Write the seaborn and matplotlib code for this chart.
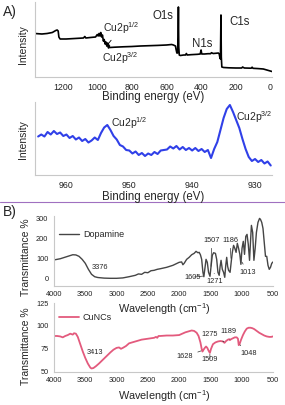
import matplotlib
matplotlib.use("Agg")
import matplotlib.pyplot as plt
import seaborn as sns

# XPS survey (binding energy in eV, intensity in arbitrary units)
survey_ev = [1360, 1320, 1290, 1260, 1240, 1232, 1226, 1222, 1215, 1180, 1130, 1080, 1072, 1066,
             1040, 1010, 1000, 995, 990, 985, 980, 975, 970, 965, 960, 955, 950, 945, 940, 935,
             932, 928, 900, 850, 800, 750, 700, 650, 600, 570, 560, 548, 545, 540, 536, 533, 531,
             529, 526, 520, 500, 490, 485, 480, 460, 440, 420, 405, 400, 396, 380, 360, 345, 340,
             330, 310, 300, 295, 292, 288, 285, 283, 280, 270, 240, 200, 165, 160, 150, 110, 105,
             100, 70, 40, 20, 10, 0, -10]
survey_int = [43.5, 43, 43.5, 44.5, 46.5, 47, 46, 40, 38, 38, 38.5, 39, 40.5, 39,
              39.5, 40, 42.5, 41, 43.5, 41, 44.5, 40, 42, 36, 37.5, 33, 35, 31, 34, 29,
              31, 29.5, 29.8, 30.2, 30.5, 31, 31.3, 31.6, 32, 32.5, 32, 31, 28, 24, 24, 40, 70,
              30, 22, 21.5, 22, 22, 23.5, 22, 22.3, 22.5, 22.7, 23, 27, 23, 23, 23.3, 23.3, 24.3,
              23.5, 23.8, 24, 23, 20, 18, 62, 20, 10, 9.5, 9.2, 9, 9, 10, 9, 8.8, 9.8,
              8.7, 8.4, 8, 7, 6.5, 6, 5.5]

# Cu2p high resolution
cu2p_ev = [964.5, 964.0, 963.5, 963.0, 962.5, 962.0, 961.5, 961.0, 960.5, 960.0,
           959.5, 959.0, 958.5, 958.0, 957.5, 957.0, 956.5, 956.0, 955.5, 955.0,
           954.5, 954.0, 953.5, 953.0, 952.5, 952.0, 951.5, 951.0, 950.5, 950.0,
           949.5, 949.0, 948.5, 948.0, 947.5, 947.0, 946.5, 946.0, 945.5, 945.0,
           944.5, 944.0, 943.5, 943.0, 942.5, 942.0, 941.5, 941.0, 940.5, 940.0,
           939.5, 939.0, 938.5, 938.0, 937.5, 937.0, 936.5, 936.0, 935.5, 935.0,
           934.5, 934.0, 933.5, 933.0, 932.5, 932.0, 931.5, 931.0, 930.5, 930.0,
           929.5, 929.0, 928.5, 928.0, 927.5]
cu2p_int = [38.5, 40.5, 38.5, 43.0, 40.5, 44.0, 41.0, 42.5, 39.0, 40.5,
            37.0, 39.0, 35.5, 37.5, 34.0, 36.0, 32.5, 34.5, 37.5, 35.0,
            42.0, 47.5, 50.0, 45.0, 39.0, 35.5, 30.0, 28.5, 25.0, 24.5,
            21.5, 23.5, 20.0, 22.0, 19.0, 21.5, 20.0, 23.0, 21.0, 24.5,
            25.0, 25.5, 28.5, 26.5, 29.0, 25.5, 28.0, 25.0, 27.0, 24.5,
            27.0, 24.0, 26.0, 23.0, 25.0, 17.0, 26.0, 33.0, 45.0, 57.0,
            66.0, 70.0, 63.0, 55.0, 47.0, 36.0, 26.0, 18.0, 14.0, 16.0,
            13.0, 15.0, 11.5, 13.5, 9.5]

# FTIR dopamine
dopa_wn = [4000, 3900, 3800, 3700, 3650, 3600, 3550, 3500, 3450, 3400, 3350, 3300, 3200, 3100,
           3000, 2900, 2800, 2700, 2650, 2600, 2550, 2500, 2450, 2400, 2350, 2300, 2200, 2100,
           2000, 1960, 1940, 1920, 1880, 1840, 1800, 1760, 1730, 1700, 1680, 1660, 1640, 1620,
           1605, 1590, 1570, 1550, 1530, 1507, 1490, 1470, 1450, 1420, 1400, 1380, 1360, 1345,
           1330, 1310, 1290, 1271, 1255, 1240, 1225, 1210, 1186, 1165, 1150, 1130, 1110, 1090,
           1070, 1050, 1030, 1013, 995, 975, 955, 935, 915, 895, 875, 860, 845, 825, 805, 785,
           765, 740, 715, 700, 680, 660, 640, 620, 600, 580, 560, 540, 520, 500]
dopa_t = [92, 98, 108, 118, 117, 110, 95, 75, 45, 20, 8, 4, 1, 0,
          0, 2, 8, 15, 22, 20, 30, 28, 38, 40, 45, 48, 55, 65,
          80, 82, 68, 75, 95, 105, 118, 125, 135, 128, 130, 118, 95, 30,
          8, 45, 95, 80, 30, 10, 60, 115, 128, 125, 95, 30, 15, 60,
          90, 45, 30, 5, 65, 105, 60, 40, 30, 90, 130, 165, 150, 130,
          175, 150, 120, 70, 150, 185, 120, 210, 220, 170, 90, 180, 265, 230, 90, 150,
          230, 280, 300, 295, 280, 250, 180, 110, 110, 65, 45, 55, 75, 82]

# FTIR CuNCs
cunc_wn = [4000, 3950, 3900, 3860, 3820, 3780, 3740, 3700, 3680, 3650, 3620, 3580, 3540, 3500,
           3460, 3420, 3400, 3370, 3330, 3280, 3220, 3160, 3100, 3050, 3000, 2960, 2930, 2900,
           2850, 2800, 2700, 2600, 2500, 2400, 2370, 2350, 2330, 2300, 2200, 2100, 2000, 1950,
           1900, 1850, 1800, 1760, 1720, 1690, 1660, 1640, 1628, 1610, 1590, 1570, 1550, 1530,
           1509, 1490, 1460, 1420, 1380, 1340, 1300, 1275, 1250, 1220, 1200, 1189, 1170, 1140,
           1110, 1080, 1060, 1048, 1035, 1010, 980, 950, 920, 890, 860, 830, 800, 760, 720,
           680, 640, 600, 560, 530, 500]
cunc_t = [89, 89, 88.5, 87.5, 89, 90, 91.5, 90.5, 92, 91.5, 88, 80, 72, 65,
          59, 54.5, 53.5, 54, 56, 59, 63, 67, 71, 74, 76, 76.5, 75, 76,
          78, 81, 83, 85, 86, 87, 88, 87, 89, 89, 89.5, 89.5, 90, 91.5,
          93, 94, 95, 94.5, 92.5, 89, 82, 75, 72, 74, 76, 77.5, 76, 73,
          70.5, 75, 80, 82, 83, 83.5, 83, 81.5, 83.5, 85, 85.5, 84.5, 85.5, 86.5,
          87.5, 87.5, 86, 79, 80, 85, 90, 94, 97, 98, 98, 97.5, 96.5, 94.5, 92.5,
          91, 89.5, 88.5, 88, 88, 88.5]

sns.set_style("white")
plt.rcParams['font.family'] = ['Liberation Sans', 'DejaVu Sans']
plt.rcParams['mathtext.default'] = 'regular'

W, H = 285, 405
fig = plt.figure(figsize=(W / 100, H / 100), dpi=100)


def px_axes(x0, y0, x1, y1):
    return fig.add_axes([x0 / W, 1 - y1 / H, (x1 - x0) / W, (y1 - y0) / H])


def ftext(x, y, s, **kw):
    fig.text(x / W, 1 - y / H, s, **kw)


def style(ax, fs):
    for s in ['top', 'right']:
        ax.spines[s].set_visible(False)
    for s in ['left', 'bottom']:
        ax.spines[s].set_color('#c8c8c8')
        ax.spines[s].set_linewidth(0.8)
    ax.tick_params(axis='both', which='both', colors='#b0b0b0', labelcolor='#222222',
                   labelsize=fs, length=2, width=0.6, pad=2, direction='out')
    ax.tick_params(which='minor', length=1.5)
    ax.set_xlabel('')
    ax.set_ylabel('')


# A) survey
ax1 = px_axes(35, 2, 272, 77)
sns.lineplot(x=survey_ev, y=survey_int, ax=ax1, color='black', lw=1.2, estimator=None)
ax1.set_xlim(1360, -10)
ax1.set_ylim(0, 75)
ax1.set_xticks([1200, 1000, 800, 600, 400, 200, 0])
ax1.set_xticks(range(1300, -1, -100), minor=True)
ax1.set_yticks([])
style(ax1, 6.3)
ax1.text(618, 61, 'O1s', fontsize=8.3, ha='center', va='center')
ax1.text(179, 55, 'C1s', fontsize=8.3, ha='center', va='center')
ax1.text(393, 33, 'N1s', fontsize=8.3, ha='center', va='center')
ax1.annotate('Cu2p$^{1/2}$', xy=(947, 31), xytext=(862, 49), fontsize=7.5, ha='center',
             va='center', arrowprops=dict(arrowstyle='-', lw=0.6, color='black', shrinkA=1, shrinkB=0))
ax1.annotate('Cu2p$^{3/2}$', xy=(936, 33), xytext=(868, 19), fontsize=7.5, ha='center',
             va='center', arrowprops=dict(arrowstyle='-', lw=0.6, color='black', shrinkA=1, shrinkB=0))
ftext(3, 12, 'A)', fontsize=10, va='center')
ftext(23, 45, 'Intensity', fontsize=7.5, rotation=90, ha='center', va='center')
ftext(153, 97, 'Binding energy (eV)', fontsize=8.3, ha='center', va='center')

# Cu2p high resolution
ax2 = px_axes(35, 102, 272, 175)
sns.lineplot(x=cu2p_ev, y=cu2p_int, ax=ax2, color='#3040e8', lw=1.5, estimator=None)
ax2.set_xlim(964.4, 927.3)
ax2.set_ylim(0, 73)
ax2.set_xticks([960, 950, 940, 930])
ax2.set_xticks([965, 955, 945, 935], minor=True)
ax2.set_yticks([])
style(ax2, 6.3)
ax2.text(952.9, 52, 'Cu2p$^{1/2}$', fontsize=7.5, ha='left', va='center')
ax2.text(933.0, 58, 'Cu2p$^{3/2}$', fontsize=7.5, ha='left', va='center', clip_on=False)
ftext(23, 140, 'Intensity', fontsize=7.5, rotation=90, ha='center', va='center')
ftext(153, 197, 'Binding energy (eV)', fontsize=8.3, ha='center', va='center')

fig.add_artist(plt.Line2D([0, 1], [1 - 202 / H, 1 - 202 / H], color='#a070c0', lw=0.8))

# B) dopamine FTIR
ax3 = px_axes(54, 216, 273, 285.7)
sns.lineplot(x=dopa_wn, y=dopa_t, ax=ax3, color='#454545', lw=1.0, estimator=None,
             label='Dopamine')
ax3.set_xlim(4000, 500)
ax3.set_ylim(-37, 312)
ax3.set_xticks(range(4000, 499, -500))
ax3.set_yticks([0, 100, 200, 300])
style(ax3, 5.3)
ax3.legend(loc='upper left', bbox_to_anchor=(0.0, 0.88), frameon=False, fontsize=6.5,
           handlelength=2.2, handletextpad=0.4, borderaxespad=0.2)
ann = dict(fontsize=5.3, ha='center', va='center')
line_kw = dict(arrowstyle='-', lw=0.5, color='#333333', shrinkA=1, shrinkB=0)
ax3.text(3265, 53, '3376', **ann)
ax3.annotate('1605', xy=(1619, 11), xytext=(1779, 6), arrowprops=line_kw, **ann)
ax3.annotate('1507', xy=(1491, 60), xytext=(1480, 191), arrowprops=line_kw, **ann)
ax3.annotate('1271', xy=(1440, 25), xytext=(1427, -17), arrowprops=line_kw, **ann)
ax3.annotate('1186', xy=(1172, 100), xytext=(1188, 191), arrowprops=line_kw, **ann)
ax3.annotate('1013', xy=(996, 81), xytext=(900, 31), arrowprops=line_kw, **ann)
ftext(26, 257, 'Transmittance %', fontsize=7.5, rotation=90, ha='center', va='center')
ftext(3, 212, 'B)', fontsize=10, va='center')
ftext(164, 309, 'Wavelength (cm$^{-1}$)', fontsize=7.8, ha='center', va='center')

# CuNCs FTIR
ax4 = px_axes(54, 303, 273, 371.7)
sns.lineplot(x=cunc_wn, y=cunc_t, ax=ax4, color='#e35a7d', lw=1.3, estimator=None,
             label='CuNCs')
ax4.set_xlim(4000, 500)
ax4.set_ylim(50, 125)
ax4.set_xticks(range(4000, 499, -500))
ax4.set_yticks([50, 75, 100, 125])
style(ax4, 5.3)
ax4.legend(loc='upper left', bbox_to_anchor=(0.0, 0.93), frameon=False, fontsize=6.5,
           handlelength=2.2, handletextpad=0.4, borderaxespad=0.2)
ax4.text(3345, 71, '3413', **ann)
ax4.annotate('1628', xy=(1651, 72.7), xytext=(1907, 66.4), arrowprops=line_kw, **ann)
ax4.annotate('1509', xy=(1509, 69), xytext=(1507, 62.8), arrowprops=line_kw, **ann)
ax4.annotate('1275', xy=(1283, 82.6), xytext=(1507, 90.2), arrowprops=line_kw, **ann)
ax4.annotate('1189', xy=(1189, 85), xytext=(1215, 93.9), arrowprops=line_kw, **ann)
ax4.annotate('1048', xy=(1028, 79.3), xytext=(895, 70), arrowprops=line_kw, **ann)
ftext(26, 346, 'Transmittance %', fontsize=7.5, rotation=90, ha='center', va='center')
ftext(164, 396, 'Wavelength (cm$^{-1}$)', fontsize=7.8, ha='center', va='center')

fig.savefig('out.png', dpi=100)
